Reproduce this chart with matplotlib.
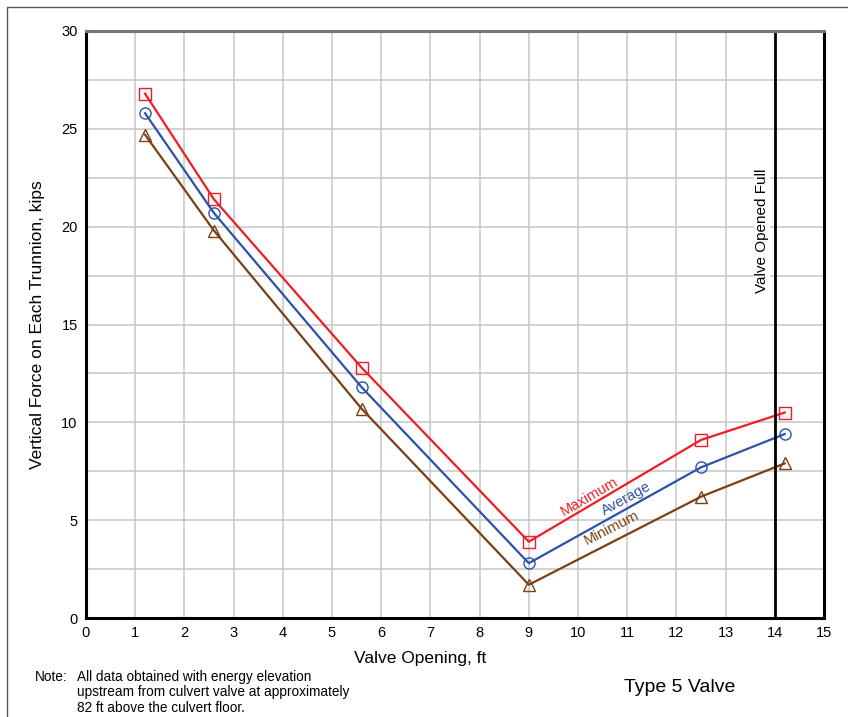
import matplotlib.pyplot as plt
from matplotlib.patches import Rectangle

plt.rcParams['font.family'] = ['Liberation Sans', 'DejaVu Sans']

# valve opening, ft
opening = [1.2, 2.6, 5.6, 9.0, 12.5, 14.2]
# vertical force on each trunnion, kips
force_max = [26.8, 21.4, 12.8, 3.9, 9.1, 10.5]
force_avg = [25.8, 20.7, 11.8, 2.8, 7.7, 9.4]
force_min = [24.7, 19.8, 10.7, 1.7, 6.2, 7.9]

xticks = list(range(0, 16))
yticks = [0, 5, 10, 15, 20, 25, 30]

fig = plt.figure(figsize=(8.48, 7.17), dpi=100)
ax = fig.add_axes([86/848, 1-618/717, (824-86)/848, (618-31)/717])

# outer frame of the plate
fig.patches.append(Rectangle((7/848, -0.05), 1.0, 1-7/717+0.05, transform=fig.transFigure,
                             fill=False, edgecolor='#555555', linewidth=1.0))

red = '#ee1c25'
blue = '#2a52a8'
brown = '#7a3f12'

ax.plot(opening, force_max, color=red, lw=1.6, marker='s', ms=8, mfc='none', mec=red, mew=1.0)
ax.plot(opening, force_avg, color=blue, lw=1.6, marker='o', ms=8, mfc='none', mec=blue, mew=1.0)
ax.plot(opening, force_min, color=brown, lw=1.6, marker='^', ms=8, mfc='none', mec=brown, mew=1.0)

ax.axvline(14, color='black', lw=2)

ax.set_xlim(0, 15)
ax.set_ylim(0, 30)
ax.set_xticks(xticks)
ax.set_yticks(yticks)
ax.set_yticks([2.5, 7.5, 12.5, 17.5, 22.5, 27.5], minor=True)
ax.grid(True, which='both', color='#c6c6c6', lw=1.1)
ax.set_axisbelow(True)
ax.tick_params(which='both', length=0, labelsize=10.5, pad=6)
ax.tick_params(axis='x', pad=6)

for side in ['left', 'bottom', 'right']:
    ax.spines[side].set_linewidth(2.2)
    ax.spines[side].set_color('black')
ax.spines['top'].set_linewidth(2.2)
ax.spines['top'].set_color('#777777')

ax.text(13.74, 19.8, 'Valve Opened Full', rotation=90, ha='center', va='center',
        fontsize=11,
        bbox=dict(facecolor='white', edgecolor='none', pad=1))

ax.text(10.24, 6.2, 'Maximum', color=red, rotation=30, ha='center', va='center', fontsize=10.5)
ax.text(10.98, 6.1, 'Average', color=blue, rotation=29, ha='center', va='center', fontsize=10.5)
ax.text(10.69, 4.6, 'Minimum', color=brown, rotation=27, ha='center', va='center', fontsize=10.5)

fig.text(420/848, 1-658/717, 'Valve Opening, ft', ha='center', va='center', fontsize=12.5)
fig.text(38/848, 1-325/717, 'Vertical Force on Each Trunnion, kips', rotation=90,
         ha='center', va='center', fontsize=12.5)

fig.text(35/848, 1-677/717, 'Note:', ha='left', va='center', fontsize=9.8)
fig.text(77/848, 1-677/717, 'All data obtained with energy elevation', ha='left', va='center', fontsize=9.8)
fig.text(77/848, 1-692/717, 'upstream from culvert valve at approximately', ha='left', va='center', fontsize=9.8)
fig.text(77/848, 1-708/717, '82 ft above the culvert floor.', ha='left', va='center', fontsize=9.8)

fig.text(680/848, 1-687/717, 'Type 5 Valve', ha='center', va='center', fontsize=14)

fig.savefig('out.png', dpi=100)
